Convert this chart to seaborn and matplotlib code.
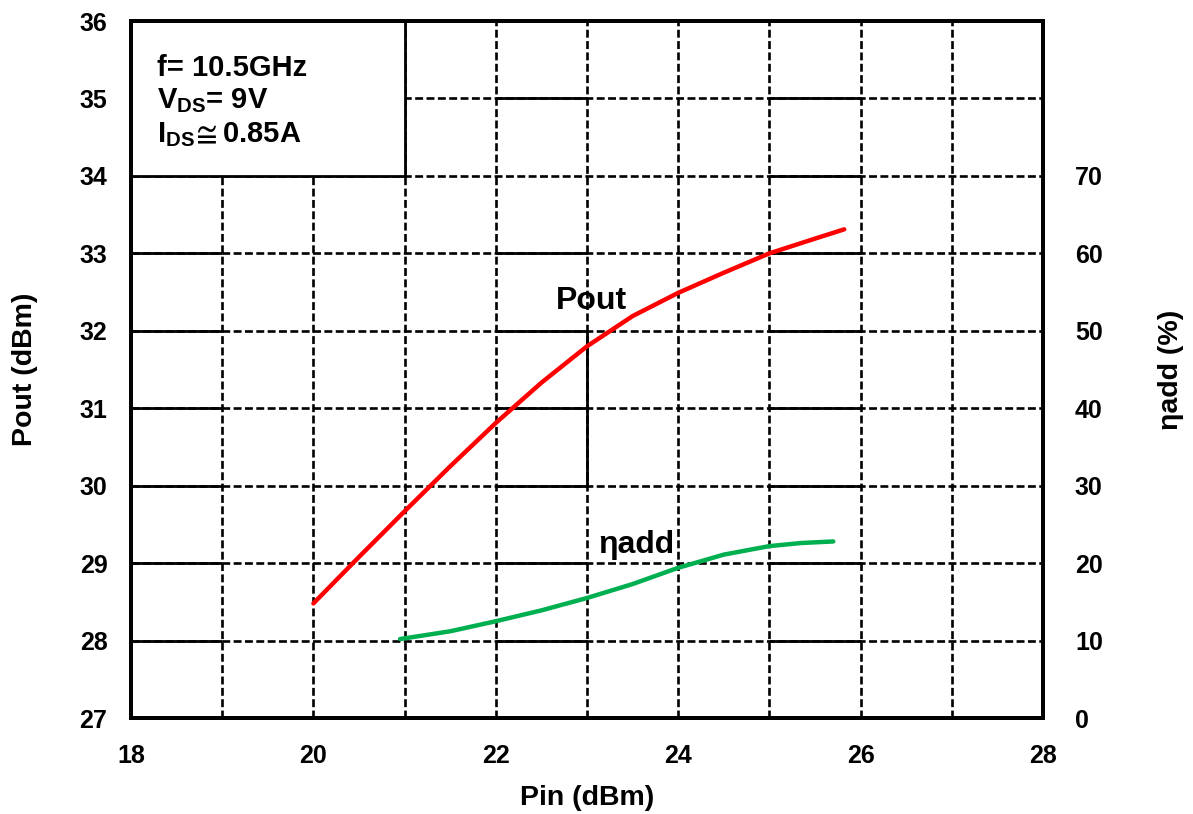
import numpy as np
import pandas as pd
import matplotlib
matplotlib.use("Agg")
import matplotlib.pyplot as plt
import seaborn as sns
from matplotlib.patches import Rectangle
from matplotlib.ticker import MultipleLocator

sns.set_theme(style="white")
plt.rcParams['font.family'] = ['Liberation Sans', 'DejaVu Sans']
plt.rcParams['font.weight'] = 'bold'
plt.rcParams['text.color'] = 'black'
plt.rcParams['axes.labelcolor'] = 'black'
plt.rcParams['xtick.color'] = 'black'
plt.rcParams['ytick.color'] = 'black'
plt.rcParams['mathtext.fontset'] = 'custom'
plt.rcParams['mathtext.rm'] = 'Liberation Sans:bold'
plt.rcParams['mathtext.bf'] = 'Liberation Sans:bold'
plt.rcParams['mathtext.it'] = 'Liberation Sans:bold'
plt.rcParams['mathtext.fallback'] = 'stixsans'

# Pout vs Pin
pin_pout = [20.0, 20.5, 21.0, 21.5, 22.0, 22.5, 23.0, 23.5, 24.0, 24.5, 25.0, 25.5, 25.82]
pout_dbm = [28.48, 29.08, 29.67, 30.25, 30.81, 31.33, 31.80, 32.19, 32.49, 32.75, 33.00, 33.19, 33.31]

# added efficiency vs Pin
pin_eta = [20.95, 21.5, 22.0, 22.5, 23.0, 23.5, 24.0, 24.5, 25.0, 25.35, 25.7]
eta_pct = [10.2, 11.2, 12.5, 13.9, 15.5, 17.3, 19.4, 21.1, 22.2, 22.6, 22.8]

x_ticks = [18, 20, 22, 24, 26, 28]
y_left_ticks = [27, 28, 29, 30, 31, 32, 33, 34, 35, 36]
y_right_ticks = [0, 10, 20, 30, 40, 50, 60, 70]

conditions = ["f= 10.5GHz", r"$\mathrm{V_{DS}}$= 9V", r"I$_{\mathrm{DS}}\!\cong$0.85A"]

pout_df = pd.DataFrame({"Pin": pin_pout, "Pout": pout_dbm})
eta_df = pd.DataFrame({"Pin": pin_eta, "eta": eta_pct})

fig = plt.figure(figsize=(11.93, 8.14), dpi=100)
ax = fig.add_axes([0.1098, 0.1179, 0.7645, 0.8563])
ax2 = ax.twinx()

ax.set_xlim(18, 28)
ax.set_ylim(27, 36)
ax2.set_ylim(0, 90)
ax.set_xticks(x_ticks)
ax.xaxis.set_minor_locator(MultipleLocator(1))
ax.set_yticks(y_left_ticks)
ax2.set_yticks(y_right_ticks)

# dashed grid at every unit
dash = dict(color='black', linewidth=1.9, linestyle=(0, (3.0, 1.3)))
ax.grid(True, which='both', axis='both', **dash)
ax.set_axisbelow(True)

# solid pieces of the grid as seen in the original
solid = dict(color='black', linewidth=2.0, zorder=1)
for yy in range(28, 34):
    ax.hlines(yy, 18, 19, **solid)
    ax.hlines(yy, 22, 23, **solid)
for yy in range(28, 36):
    ax.hlines(yy, 25, 26, **solid)
ax.hlines(35, 22, 23, **solid)
ax.vlines(23, 30, 32, **solid)

# conditions box
ax.add_patch(Rectangle((18, 34), 3, 2, facecolor='white', edgecolor='black',
                       linewidth=2.0, zorder=2))
for txt, yy in zip(conditions, [35.29, 34.88, 34.44]):
    ax.text(18.285, yy, txt, fontsize=21, fontweight='bold', ha='left',
            va='baseline', zorder=3)

sns.lineplot(data=pout_df, x="Pin", y="Pout", ax=ax, color='#FF0000',
             linewidth=3.2, sort=False, legend=False, zorder=4)
sns.lineplot(data=eta_df, x="Pin", y="eta", ax=ax2, color='#00B050',
             linewidth=3.2, sort=False, legend=False, zorder=4)

ax.text(23.05, 32.28, "Pout", fontsize=23, fontweight='bold', ha='center',
        va='baseline', zorder=5)
ax.text(23.54, 29.13, "\u03b7add", fontsize=23, fontweight='bold', ha='center',
        va='baseline', zorder=5)

for a in (ax, ax2):
    for sp in a.spines.values():
        sp.set_color('black')
        sp.set_linewidth(2.8)
    a.tick_params(length=0)

ax.tick_params(axis='x', which='both', pad=19, labelsize=18)
ax.tick_params(axis='y', pad=17, labelsize=18)
ax2.tick_params(axis='y', pad=23, labelsize=18)
for lab in ax.get_xticklabels() + ax.get_yticklabels() + ax2.get_yticklabels():
    lab.set_fontweight('bold')

ax.set_xlabel("Pin (dBm)", fontsize=20.5, fontweight='bold')
ax.set_ylabel("Pout (dBm)", fontsize=20.5, fontweight='bold')
ax2.set_ylabel("\u03b7add (%)", fontsize=20.5, fontweight='bold', rotation=90)
ax.xaxis.set_label_coords(0.5, -0.096)
ax.yaxis.set_label_coords(-0.102, 0.5)
ax2.yaxis.set_label_coords(1.126, 0.5)
ax2.yaxis.label.set_va('top')

fig.savefig("out.png", dpi=100)
